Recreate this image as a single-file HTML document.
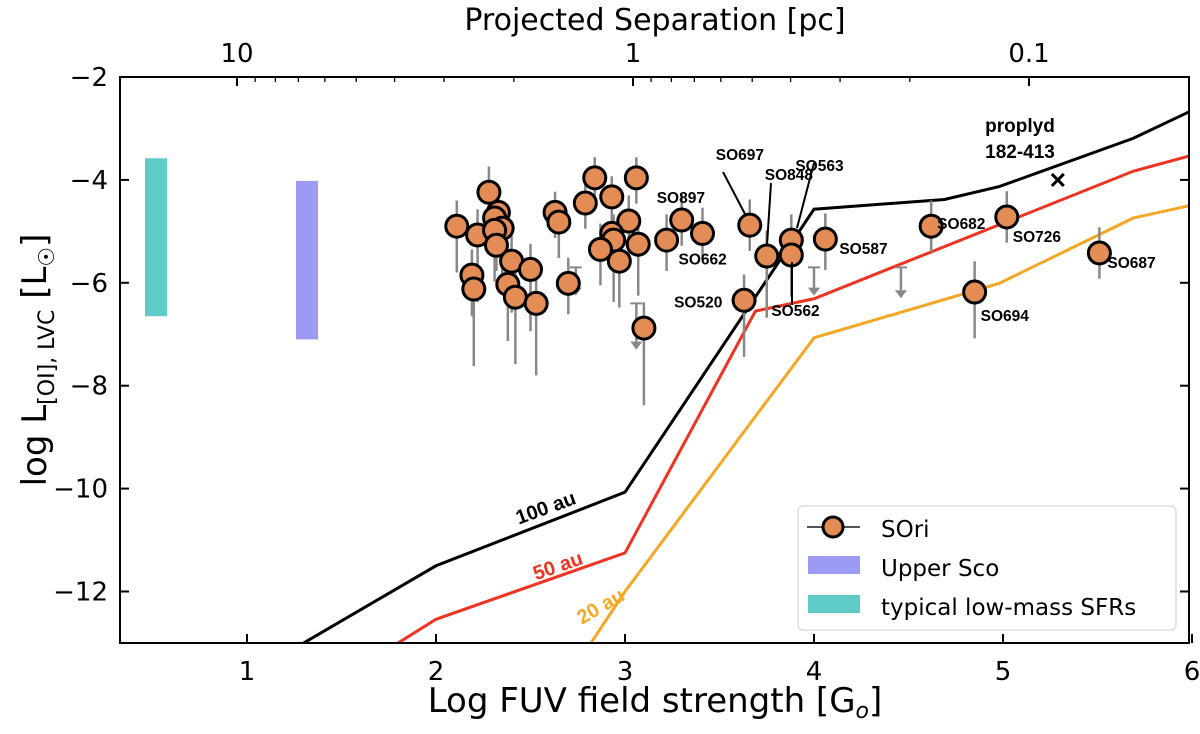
<!DOCTYPE html>
<html><head><meta charset="utf-8"><style>
body{margin:0;background:#fff;width:1200px;height:729px;overflow:hidden}
svg{font-family:"DejaVu Sans","Liberation Sans",sans-serif}
</style></head><body>
<svg id="c" width="1200" height="729"></svg>
<script>
const px=[2.11,2.28,2.22,2.33,2.31,2.35,2.31,2.32,2.19,2.20,2.40,2.50,2.38,2.42,2.53,2.63,2.65,2.70,2.84,2.79,2.93,3.06,3.02,2.93,2.94,2.87,3.07,2.97,3.10,3.22,3.30,3.41,3.66,3.75,3.88,3.88,4.06,3.63,4.62,5.02,4.85,5.51];
const py=[-4.90,-4.24,-5.07,-4.63,-4.74,-4.94,-4.98,-5.27,-5.85,-6.12,-5.58,-5.74,-6.03,-6.28,-6.40,-4.63,-4.82,-6.01,-3.96,-4.45,-4.33,-3.96,-4.80,-5.04,-5.17,-5.35,-5.25,-5.58,-6.88,-5.17,-4.78,-5.04,-4.88,-5.48,-5.17,-5.46,-5.15,-6.34,-4.90,-4.72,-6.18,-5.42];
const errLo=[0.9,0.5,1.3,0.5,0.6,1.2,1.0,0.5,0.8,1.5,1.0,1.2,1.1,1.3,1.4,0.5,0.7,0.6,0.5,0.5,0.6,0.5,0.8,0.6,1.2,0.7,1.0,0.9,1.5,0.6,0.5,0.5,0.5,1.2,1.1,0.5,0.6,1.1,0.5,0.5,0.9,0.5];
const errHi=[0.5,0.5,0.5,0.5,0.5,0.5,0.5,0.5,0.5,0.5,0.5,0.5,0.5,0.5,0.5,0.4,0.4,0.5,0.4,0.4,0.4,0.4,0.5,0.5,0.5,0.5,0.5,0.5,0.5,0.5,0.5,0.5,0.5,0.5,0.5,0.5,0.5,0.5,0.5,0.5,0.6,0.5];
const labNames=["SO897","SO662","SO697","SO848","SO563","SO562","SO587","SO520","SO682","SO726","SO694","SO687"];
const labIdx=[30,31,32,33,34,35,36,37,38,39,40,41];
const ulX=[2.74,3.06,4.0,4.46];
const ulY=[-5.7,-6.4,-5.7,-5.7];
const ulLen=[0.55,0.9,0.55,0.6];
const blackX=[1.3,2,3,4,4.69,4.98,5.69,6], blackY=[-13,-11.5,-10.07,-4.57,-4.38,-4.13,-3.19,-2.65];
const redX=[1.8,2,3,3.69,4,5.69,6], redY=[-13,-12.54,-11.25,-6.55,-6.31,-3.83,-3.52];
const orX=[2.82,3,4,4.98,5.69,6], orY=[-13,-12.0,-7.07,-6.01,-4.74,-4.49];
const xTicks=[1,2,3,4,5,6], yTicks=[-2,-4,-6,-8,-10,-12];
const sepTicks=[10,1,0.1];
const L=120,R=1189,T=77,B=643;
const X=v=>247+(v-1)*189, Y=v=>T+(-2-v)*51.45, S=d=>633-396*Math.log10(d);
const svg=document.getElementById('c');const NS='http://www.w3.org/2000/svg';
function el(t,a,p){const e=document.createElementNS(NS,t);for(const k in a)e.setAttribute(k,a[k]);(p||svg).appendChild(e);return e;}
const clip=el('clipPath',{id:'cp'});el('rect',{x:L,y:T,width:R-L,height:B-T},clip);
const g=el('g',{'clip-path':'url(#cp)'});
let b1=el('rect',{x:145,y:Y(-3.58),width:22,height:Y(-6.65)-Y(-3.58),fill:'#5ecbc8'},g);

let b2=el('rect',{x:296,y:Y(-4.02),width:22,height:Y(-7.1)-Y(-4.02),fill:'#9b9bf5'},g);

function line(xs,ys,c,n){const p=el('polyline',{points:xs.map((x,i)=>X(x)+','+Y(ys[i])).join(' '),fill:'none',stroke:c,'stroke-width':3},g);}
line(blackX,blackY,'#000','model-100au');line(redX,redY,'#ee3322','model-50au');line(orX,orY,'#f5a623','model-20au');
ulX.forEach((x,i)=>{const y0=Y(ulY[i]),y1=Y(ulY[i]-ulLen[i]);
const l=el('line',{x1:X(x),x2:X(x),y1:y0,y2:y1-8,stroke:'#888','stroke-width':2.5},g);
el('line',{x1:X(x)-6,x2:X(x)+6,y1:y0,y2:y0,stroke:'#888','stroke-width':2},g);
el('polygon',{points:`${X(x)-6},${y1-8} ${X(x)+6},${y1-8} ${X(x)},${y1}`,fill:'#888'},g);});
px.forEach((x,i)=>{const e=el('line',{x1:X(x),x2:X(x),y1:Y(py[i]+errHi[i]),y2:Y(py[i]-errLo[i]),stroke:'#888','stroke-width':2.5},g);});
px.forEach((x,i)=>{const c=el('circle',{cx:X(x),cy:Y(py[i]),r:11,fill:'#e38c55',stroke:'#000','stroke-width':3},g);});
const cx=X(5.29),cy=Y(-4.0);
el('path',{d:`M${cx-6} ${cy-6}L${cx+6} ${cy+6}M${cx+6} ${cy-6}L${cx-6} ${cy+6}`,stroke:'#000','stroke-width':3},g);
const lo=[[-25,-22],[-24,26],[-34,-70],[-2,-81],[4,-74],[-20,56],[14,10],[-70,2],[6,-2],[6,20],[6,24],[8,10]];
labIdx.forEach((k,i)=>{const t=el('text',{x:X(px[k])+lo[i][0],y:Y(py[k])+lo[i][1]+5,'font-size':15.5,'font-weight':'bold','font-family':'Liberation Sans, sans-serif'});t.textContent=labNames[i];});
[[723,172,745,214],[771,183,767,245],[814,163,797,228],[792,262,792,305]].forEach(a=>el('line',{x1:a[0],y1:a[1],x2:a[2],y2:a[3],stroke:'#000','stroke-width':2},g));
let pt=el('text',{x:1020,y:132,'font-size':19,'font-weight':'bold','text-anchor':'middle','font-family':'Liberation Sans, sans-serif'});pt.textContent='proplyd';
let pt2=el('text',{x:1020,y:158,'font-size':19,'font-weight':'bold','text-anchor':'middle','font-family':'Liberation Sans, sans-serif'});pt2.textContent='182-413';
[['100 au',548,514,-20,'#000'],['50 au',560,572,-19,'#ee3322'],['20 au',604,612,-30,'#f5a623']].forEach(a=>{const t=el('text',{x:a[1],y:a[2],'font-size':20,'font-weight':'bold','fill':a[4],'text-anchor':'middle',transform:`rotate(${a[3]} ${a[1]} ${a[2]})`,'font-family':'Liberation Sans, sans-serif'});t.textContent=a[0];});
el('rect',{x:L,y:T,width:R-L,height:B-T,fill:'none',stroke:'#000','stroke-width':2});
xTicks.forEach(v=>{el('line',{x1:X(v),x2:X(v),y1:B,y2:B-9,stroke:'#000','stroke-width':2});const t=el('text',{x:X(v),y:B+37,'font-size':26,'text-anchor':'middle'});t.textContent=v;});
yTicks.forEach(v=>{el('line',{x1:L,x2:L+9,y1:Y(v),y2:Y(v),stroke:'#000','stroke-width':2});el('line',{x1:R,x2:R-9,y1:Y(v),y2:Y(v),stroke:'#000','stroke-width':2});const t=el('text',{x:L-12,y:Y(v)+9,'font-size':26,'text-anchor':'end'});t.textContent=v<0?'\u2212'+(-v):v;});
for(let dec of [10,1,0.1]){for(let m=1;m<=9;m++){const d=dec*m;const x=S(d);if(x<L||x>R)continue;el('line',{x1:x,x2:x,y1:T,y2:T+(m==1?9:5),stroke:'#000','stroke-width':m==1?2:1.3});}}
sepTicks.forEach(d=>{const t=el('text',{x:S(d),y:T-15,'font-size':26,'text-anchor':'middle'});t.textContent=d;});
let tt=el('text',{x:655,y:30,'font-size':30,'text-anchor':'middle'});tt.textContent='Projected Separation [pc]';
let xt=el('text',{x:655,y:712,'font-size':34,'text-anchor':'middle'});xt.innerHTML='Log FUV field strength [G<tspan font-style="italic" font-size="22" dy="6">o</tspan><tspan dy="-6">]</tspan>';
let yt=el('text',{x:0,y:0,'font-size':34,'text-anchor':'middle',transform:'translate(46,360) rotate(-90)'});yt.innerHTML='log L<tspan font-size="22" dy="8">[OI], LVC</tspan><tspan dy="-8"> [L</tspan><tspan font-size="22" dy="8">☉</tspan><tspan dy="-8">]</tspan>';
const lg=el('g',{});
el('rect',{x:798,y:506,width:378,height:124,rx:5,fill:'#fff',stroke:'#ddd','stroke-width':1.5},lg);
el('line',{x1:807,x2:860,y1:527,y2:527,stroke:'#555','stroke-width':2},lg);
el('circle',{cx:833,cy:527,r:10,fill:'#e38c55',stroke:'#000','stroke-width':3},lg);
el('rect',{x:808,y:556,width:52,height:18,fill:'#9b9bf5'},lg);
el('rect',{x:808,y:595,width:52,height:18,fill:'#5ecbc8'},lg);
[['SOri',537],['Upper Sco',576],['typical low-mass SFRs',615]].forEach(a=>{const t=el('text',{x:881,y:a[1],'font-size':23},lg);t.textContent=a[0];});
</script></body></html>
